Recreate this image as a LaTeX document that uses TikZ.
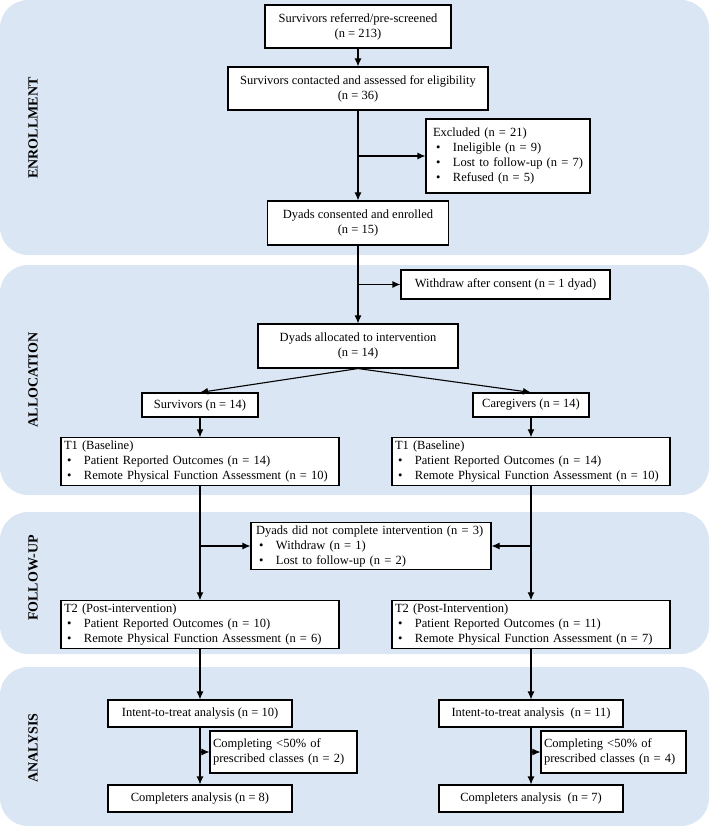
\documentclass[tikz,border=0pt]{standalone}
\usepackage{fontspec}
\setmainfont{Liberation Serif}
\usetikzlibrary{arrows.meta}
\definecolor{panelblue}{HTML}{DAE6F3}
\newcommand{\itm}[1]{\hspace*{3pt}\makebox[17pt][l]{\textbullet}#1}
\tikzset{
	panel/.style={fill=panelblue, rounded corners=28pt},
	phase/.style={rotate=90, font=\fontsize{14}{16}\selectfont\bfseries},
	box/.style={draw, line width=1.1pt, fill=white, align=center, inner sep=3pt, font=\fontsize{12.5}{15}\selectfont},
	lbox/.style={box, align=left},
	arr/.style={line width=1.1pt, -{Latex[length=8pt,width=7pt]}}
}
\begin{document}
\begin{tikzpicture}[x=1pt,y=-1pt]
				\useasboundingbox (0,0) rectangle (709,826);
				% phases
				\fill[panel] (0,0) rectangle (709,255);
				\fill[panel] (0,265) rectangle (709,495);
				\fill[panel] (0,512) rectangle (709,654);
				\fill[panel] (0,667) rectangle (709,826);
				\node[phase] (enr) at (33,128) {ENROLLMENT};
				\node[phase] (all) at (33,380) {ALLOCATION};
				\node[phase] (fol) at (33,578) {FOLLOW-UP};
				\node[phase] (ana) at (33,748) {ANALYSIS};
				% enrollment
				\node[box, minimum width=186pt, minimum height=43pt] (refer) at (358,26.5) {Survivors referred/pre-screened\\(n = 213)};
				\node[box, minimum width=260pt, minimum height=43pt] (contact) at (358,88.5) {Survivors contacted and assessed for eligibility\\(n = 36)};
				\node[lbox, text width=150pt, minimum height=74pt, inner xsep=7pt] (excl) at (508,156) {Excluded (n = 21)\\\itm{Ineligible (n = 9)}\\\itm{Lost to follow-up (n = 7)}\\\itm{Refused (n = 5)}};
				\node[box, minimum width=181pt, minimum height=44pt] (enrol) at (358,223) {Dyads consented and enrolled\\(n = 15)};
				% allocation
				\node[box, minimum width=209pt, minimum height=29pt] (withdraw) at (505.5,284.5) {Withdraw after consent (n = 1 dyad)};
				\node[box, minimum width=200pt, minimum height=44pt] (alloc) at (358,346) {Dyads allocated to intervention\\(n = 14)};
				\node[box, minimum width=116pt, minimum height=24pt] (surv) at (200,405) {Survivors (n = 14)};
				\node[box, minimum width=116pt, minimum height=24pt] (care) at (531,405) {Caregivers (n = 14)};
				\node[lbox, text width=272pt, minimum height=45pt] (t1s) at (200,461.5) {T1 (Baseline)\\\itm{Patient Reported Outcomes (n = 14)}\\\itm{Remote Physical Function Assessment (n = 10)}};
				\node[lbox, text width=272pt, minimum height=45pt] (t1c) at (531,461.5) {T1 (Baseline)\\\itm{Patient Reported Outcomes (n = 14)}\\\itm{Remote Physical Function Assessment (n = 10)}};
				% follow-up
				\node[lbox, text width=230pt, minimum height=46pt, inner xsep=5pt] (drop) at (371,546) {Dyads did not complete intervention (n = 3)\\\itm{Withdraw (n = 1)}\\\itm{Lost to follow-up (n = 2)}};
				\node[lbox, text width=272pt, minimum height=45pt] (t2s) at (200,624.5) {T2 (Post-intervention)\\\itm{Patient Reported Outcomes (n = 10)}\\\itm{Remote Physical Function Assessment (n = 6)}};
				\node[lbox, text width=272pt, minimum height=45pt] (t2c) at (531,624.5) {T2 (Post-Intervention)\\\itm{Patient Reported Outcomes (n = 11)}\\\itm{Remote Physical Function Assessment (n = 7)}};
				% analysis
				\node[box, minimum width=184pt, minimum height=27pt] (itts) at (200,713.5) {Intent-to-treat analysis (n = 10)};
				\node[box, minimum width=184pt, minimum height=27pt] (ittc) at (531,713.5) {Intent-to-treat analysis\ \ (n = 11)};
				\node[lbox, text width=141pt, minimum height=42pt] (lows) at (283.5,752) {Completing <50\% of\\prescribed classes (n = 2)};
				\node[lbox, text width=139pt, minimum height=42pt] (lowc) at (613.5,752) {Completing <50\% of\\prescribed classes (n = 4)};
				\node[box, minimum width=184pt, minimum height=27pt] (comps) at (200,798.5) {Completers analysis (n = 8)};
				\node[box, minimum width=184pt, minimum height=27pt] (compc) at (531,798.5) {Completers analysis\ \ (n = 7)};
				% connectors
				\draw[arr] (refer) -- (contact);
				\draw[arr] (contact) -- (enrol);
				\draw[arr] (contact.south |- excl.west) -- (excl.west);
				\draw[arr] (enrol) -- (alloc);
				\draw[arr] (enrol.south |- withdraw.west) -- (withdraw.west);
				\draw[arr] (alloc.south) -- (surv.north);
				\draw[arr] (alloc.south) -- (care.north);
				\draw[arr] (surv) -- (t1s);
				\draw[arr] (care) -- (t1c);
				\draw[arr] (t1s) -- (t2s);
				\draw[arr] (t1c) -- (t2c);
				\draw[arr] (t1s.south |- drop.west) -- (drop.west);
				\draw[arr] (t1c.south |- drop.east) -- (drop.east);
				\draw[arr] (t2s) -- (itts);
				\draw[arr] (t2c) -- (ittc);
				\draw[arr] (itts) -- (comps);
				\draw[arr] (ittc) -- (compc);
				\draw[arr] (itts.south |- lows.west) -- (lows.west);
				\draw[arr] (ittc.south |- lowc.west) -- (lowc.west);
			\end{tikzpicture}
\end{document}
